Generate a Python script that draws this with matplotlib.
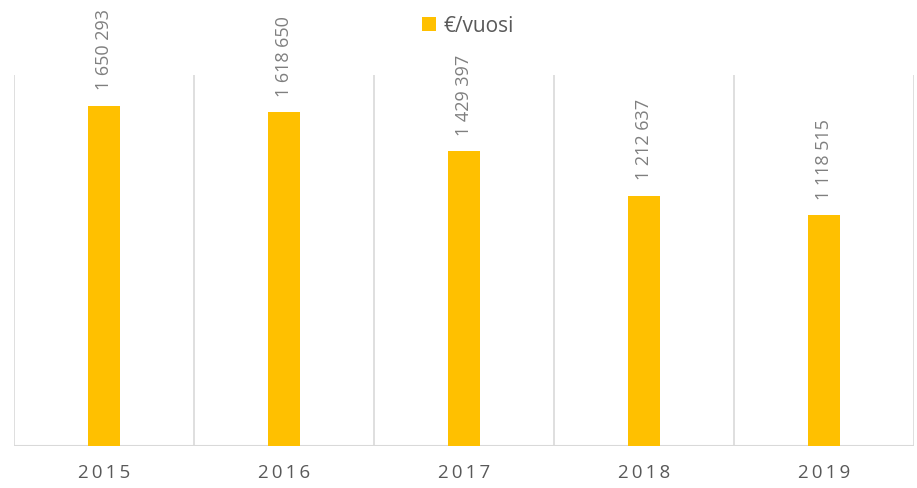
import matplotlib.pyplot as plt

years = ['2015', '2016', '2017', '2018', '2019']
values = [1650293, 1618650, 1429397, 1212637, 1118515]
series_name = '€/vuosi'

plt.rcParams['font.family'] = ['Open Sans', 'DejaVu Sans']

fig = plt.figure(figsize=(9.17, 4.89), dpi=100)
ax = fig.add_axes([14 / 917, 42 / 489, 900 / 917, 371 / 489])

x = range(len(years))
bars = ax.bar(x, values, width=0.183, color='#FFC000', label=series_name, zorder=3)

ax.set_xlim(-0.5, len(years) - 0.5)
ax.set_ylim(0, 1800000)

# category boundary gridlines
for b in [i - 0.5 for i in range(len(years) + 1)]:
    ax.axvline(b, color='#d9d9d9', lw=1.2, zorder=1)

for s in ax.spines.values():
    s.set_visible(False)
ax.axhline(0, color='#d9d9d9', lw=1.5, zorder=2)

ax.set_yticks([])
ax.set_xticks(list(x))
ax.set_xticklabels(['\u2009'.join(y) for y in years], fontsize=13.5, color='#595959')
ax.tick_params(axis='x', length=0, pad=12)

for xi, v in zip(x, values):
    label = f'{v:,}'.replace(',', ' ')
    ax.annotate(label, (xi, v), xytext=(0, 12), textcoords='offset points',
                rotation=90, ha='center', va='bottom', fontsize=13, color='#7f7f7f',
                annotation_clip=False)

leg = fig.legend(handles=[bars], labels=[series_name], loc='upper center',
                 bbox_to_anchor=(0.51, 1.005), frameon=False, fontsize=15,
                 handlelength=0.7, handleheight=0.7, handletextpad=0.35)
for t in leg.get_texts():
    t.set_color('#595959')

fig.savefig('out.png', dpi=100)
